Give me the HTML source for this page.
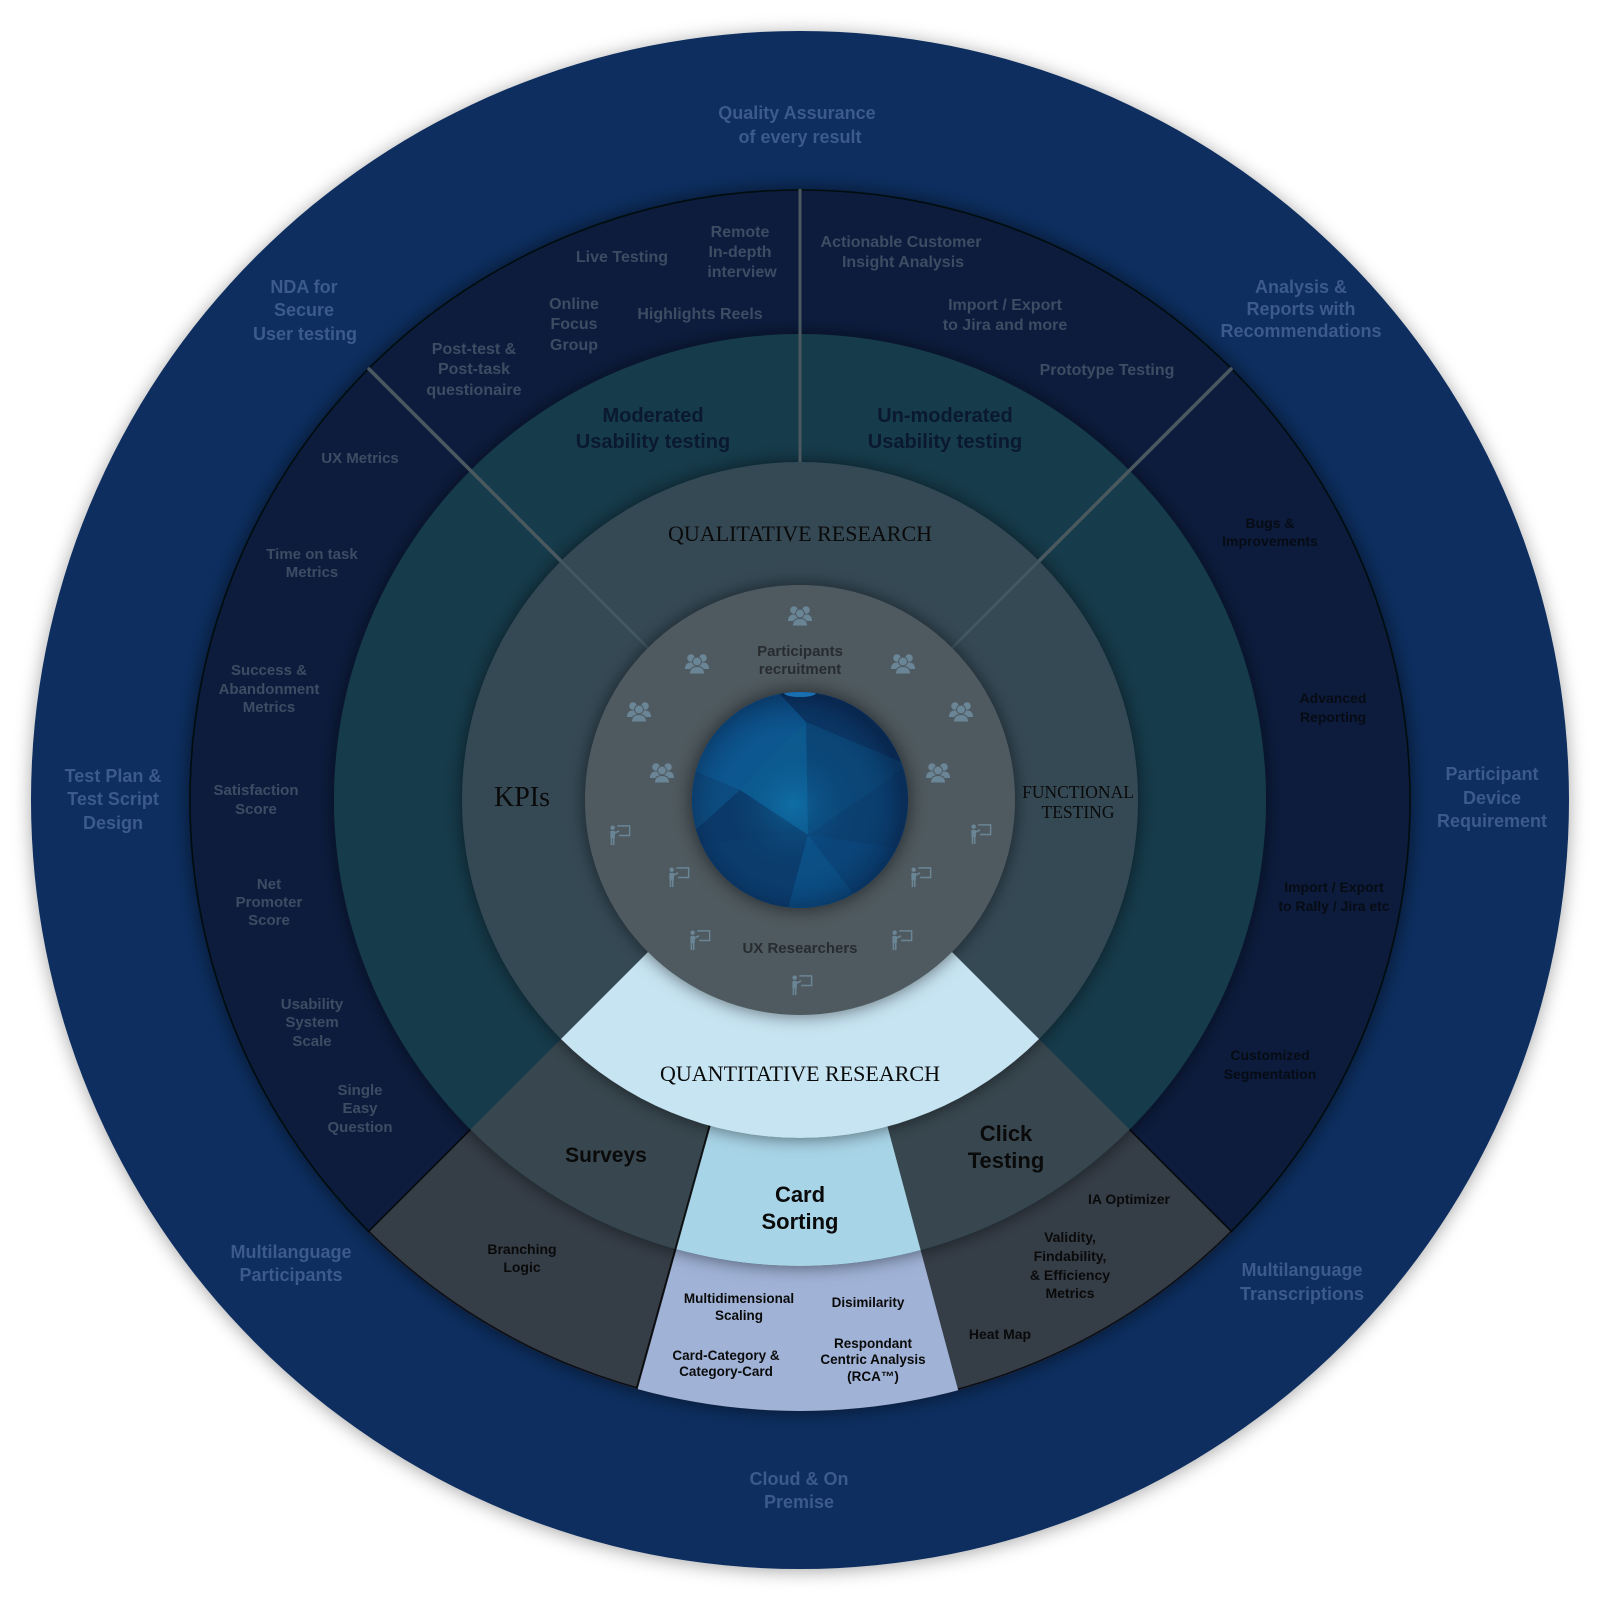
<!DOCTYPE html>
<html>
<head>
<meta charset="utf-8">
<style>
  html,body{margin:0;padding:0;background:#ffffff;}
  svg{display:block;}
  .s{font-family:"Liberation Sans",Arial,sans-serif;font-weight:bold;text-anchor:middle;}
  .f{font-family:"Liberation Serif","Times New Roman",serif;text-anchor:middle;fill:#0a0a0a;}
  .o{font-size:18px;fill:#3c5a8c;}
  .t{font-size:16px;fill:#3d4c62;}
  .l{font-size:15px;fill:#3d4c62;}
  .r{font-size:14px;fill:#060b14;}
  .m{font-size:20px;fill:#0b1930;}
  .p{font-size:15px;fill:#272c30;}
  .b{font-size:22px;fill:#0a0a0a;}
  .c{font-size:14px;fill:#0a0a0a;}
  .d{font-size:13.5px;fill:#0a0a0a;}
</style>
</head>
<body>
<svg width="1600" height="1600" viewBox="0 0 1600 1600" xmlns="http://www.w3.org/2000/svg">
<defs>
  <filter id="sh0" x="-10%" y="-10%" width="120%" height="120%">
    <feDropShadow dx="0" dy="2" stdDeviation="9" flood-color="#000" flood-opacity="0.35"/>
  </filter>
  <filter id="sh" x="-20%" y="-20%" width="140%" height="140%">
    <feDropShadow dx="0" dy="0" stdDeviation="9" flood-color="#000" flood-opacity="0.55"/>
  </filter>
  <filter id="shg" x="-40%" y="-40%" width="180%" height="180%">
    <feDropShadow dx="0" dy="0" stdDeviation="10" flood-color="#000" flood-opacity="0.6"/>
  </filter>
  <clipPath id="bot"><polygon points="800,800 -200,1800 1800,1800"/></clipPath>
  <clipPath id="card"><polygon points="800,800 523,1800 1068,1800"/></clipPath>
  <clipPath id="globe"><circle cx="800" cy="800" r="108"/></clipPath>
  <radialGradient id="gglow" cx="793" cy="805" r="110" gradientUnits="userSpaceOnUse">
    <stop offset="0" stop-color="#1386bf" stop-opacity="0.45"/>
    <stop offset="0.6" stop-color="#0a4a80" stop-opacity="0"/>
    <stop offset="1" stop-color="#06183a" stop-opacity="0.45"/>
  </radialGradient>
  <symbol id="ppl" viewBox="0 0 26 22">
    <circle cx="7" cy="6" r="3.8" fill="#6a8596"/>
    <path d="M1,17 q0,-6.5 6,-6.5 q6,0 6,6.5 z" fill="#6a8596"/>
    <circle cx="19" cy="6" r="3.8" fill="#6a8596"/>
    <path d="M13,17 q0,-6.5 6,-6.5 q6,0 6,6.5 z" fill="#6a8596"/>
    <circle cx="13" cy="9.5" r="4.4" fill="#6a8596" stroke="#4f5a61" stroke-width="1"/>
    <path d="M5.5,22 q0,-7.5 7.5,-7.5 q7.5,0 7.5,7.5 z" fill="#6a8596" stroke="#4f5a61" stroke-width="1"/>
  </symbol>
  <symbol id="pre" viewBox="0 0 24 24">
    <circle cx="4" cy="4" r="2.4" fill="#6a8596"/>
    <rect x="1.5" y="7.5" width="5" height="8" rx="1" fill="#6a8596"/>
    <rect x="1.8" y="14.5" width="1.7" height="8.5" fill="#6a8596"/>
    <rect x="4.3" y="14.5" width="1.7" height="8.5" fill="#6a8596"/>
    <path d="M6,10 L11,7.5" stroke="#6a8596" stroke-width="1.8" fill="none"/>
    <path d="M9,2 H22.5 V12.5 H11" stroke="#6a8596" stroke-width="1.6" fill="none"/>
  </symbol>
</defs>

<rect width="1600" height="1600" fill="#ffffff"/>

<!-- outer ring -->
<g filter="url(#sh0)">
  <circle cx="800" cy="800" r="769" fill="#0f2d5e"/>
</g>

<!-- R4 dark band -->
<g filter="url(#sh)">
  <circle cx="800" cy="800" r="611" fill="#0e1f3d"/>
  <circle cx="800" cy="800" r="611" fill="#353c47" clip-path="url(#bot)"/>
  <circle cx="800" cy="800" r="610" fill="none" stroke="#000" stroke-opacity="0.75" stroke-width="1.6"/>
  <circle cx="800" cy="800" r="611" fill="#a0b3d7" clip-path="url(#card)"/>
</g>

<!-- R3 teal -->
<g filter="url(#sh)">
  <circle cx="800" cy="800" r="466" fill="#163a4c"/>
  <circle cx="800" cy="800" r="466" fill="#37474f" clip-path="url(#bot)"/>
  <circle cx="800" cy="800" r="466" fill="#a8d4e7" clip-path="url(#card)"/>
</g>

<!-- lower boundary lines in R4 -->
<line x1="470.5" y1="1129.5" x2="368" y2="1232" stroke="#000" stroke-opacity="0.8" stroke-width="1.6"/>
<line x1="1129.5" y1="1129.5" x2="1232" y2="1232" stroke="#000" stroke-opacity="0.8" stroke-width="1.6"/>

<!-- R2 -->
<g filter="url(#sh)">
  <circle cx="800" cy="800" r="338" fill="#344a55"/>
  <circle cx="800" cy="800" r="338" fill="#c7e4f2" clip-path="url(#bot)"/>
</g>

<!-- card sorting left edge -->
<line x1="709.7" y1="1125.7" x2="636.7" y2="1388.8" stroke="#000" stroke-opacity="0.85" stroke-width="2"/>

<!-- divider lines upper half -->
<line x1="800" y1="189" x2="800" y2="462" stroke="#4a5960" stroke-width="3"/>
<line x1="368" y1="368" x2="561" y2="561" stroke="#4a5960" stroke-width="3.5"/>
<line x1="1232" y1="368" x2="1039" y2="561" stroke="#4a5960" stroke-width="3.5"/>
<line x1="561" y1="561" x2="650" y2="650" stroke="#435a64" stroke-width="2.5"/>
<line x1="1039" y1="561" x2="950" y2="650" stroke="#435a64" stroke-width="2.5"/>

<!-- R1 participants ring -->
<g filter="url(#sh)">
  <circle cx="800" cy="800" r="215" fill="#4f5a61"/>
</g>

<!-- globe -->
<g filter="url(#shg)">
  <circle cx="800" cy="800" r="108" fill="#0b4a80"/>
</g>
<g clip-path="url(#globe)">
  <polygon points="692,770 740,790 784,743 806,722 776,690 690,690" fill="#0d5590"/>
  <polygon points="692,770 740,790 784,743 806,722 776,690 720,690 700,730" fill="#0e5893" opacity="0.6"/>
  <polygon points="776,690 806,722 908,765 908,690" fill="#0b3563"/>
  <polygon points="806,722 808,835 862,798 908,765" fill="#0b4677"/>
  <polygon points="740,790 784,743 806,722 808,835" fill="#0c5a8f"/>
  <polygon points="690,770 740,790 690,835" fill="#0d4c80"/>
  <polygon points="690,835 740,790 808,835 690,845" fill="#0b3a69"/>
  <polygon points="690,845 808,835 787,912 690,912" fill="#0b3c6c"/>
  <polygon points="808,835 787,912 855,912 853,893" fill="#0b4f85"/>
  <polygon points="808,835 853,893 910,870 910,850" fill="#0a4478"/>
  <polygon points="808,835 910,850 908,765 862,798" fill="#0b3f70"/>
  <circle cx="800" cy="800" r="108" fill="url(#gglow)"/>
  <ellipse cx="800" cy="693" rx="16" ry="4" fill="#1a6fb0"/>
</g>

<!-- icons -->
<use href="#ppl" x="787" y="604" width="26" height="22"/>
<use href="#ppl" x="684" y="652" width="26" height="22"/>
<use href="#ppl" x="890" y="652" width="26" height="22"/>
<use href="#ppl" x="626" y="700" width="26" height="22"/>
<use href="#ppl" x="948" y="700" width="26" height="22"/>
<use href="#ppl" x="649" y="761" width="26" height="22"/>
<use href="#ppl" x="925" y="761" width="26" height="22"/>
<use href="#pre" x="609" y="824" width="22" height="22"/>
<use href="#pre" x="970" y="823" width="22" height="22"/>
<use href="#pre" x="668" y="866" width="22" height="22"/>
<use href="#pre" x="910" y="866" width="22" height="22"/>
<use href="#pre" x="689" y="929" width="22" height="22"/>
<use href="#pre" x="891" y="929" width="22" height="22"/>
<use href="#pre" x="791" y="974" width="22" height="22"/>

<!-- outer ring text -->
<g class="s o">
  <text x="797" y="119">Quality Assurance</text>
  <text x="800" y="143">of every result</text>
  <text x="304" y="293">NDA for</text>
  <text x="304" y="316">Secure</text>
  <text x="305" y="340">User testing</text>
  <text x="1301" y="293">Analysis &amp;</text>
  <text x="1301" y="315">Reports with</text>
  <text x="1301" y="337">Recommendations</text>
  <text x="113" y="782">Test Plan &amp;</text>
  <text x="113" y="805">Test Script</text>
  <text x="113" y="829">Design</text>
  <text x="1492" y="780">Participant</text>
  <text x="1492" y="804">Device</text>
  <text x="1492" y="827">Requirement</text>
  <text x="291" y="1258">Multilanguage</text>
  <text x="291" y="1281">Participants</text>
  <text x="1302" y="1276">Multilanguage</text>
  <text x="1302" y="1300">Transcriptions</text>
  <text x="799" y="1485">Cloud &amp; On</text>
  <text x="799" y="1508">Premise</text>
</g>

<!-- top band text -->
<g class="s t">
  <text x="622" y="262">Live Testing</text>
  <text x="740" y="237">Remote</text>
  <text x="740" y="257">In-depth</text>
  <text x="742" y="277">interview</text>
  <text x="574" y="309">Online</text>
  <text x="574" y="329">Focus</text>
  <text x="574" y="350">Group</text>
  <text x="700" y="319">Highlights Reels</text>
  <text x="474" y="354">Post-test &amp;</text>
  <text x="474" y="374">Post-task</text>
  <text x="474" y="395">questionaire</text>
  <text x="901" y="247">Actionable Customer</text>
  <text x="903" y="267">Insight Analysis</text>
  <text x="1005" y="310">Import / Export</text>
  <text x="1005" y="330">to Jira and more</text>
  <text x="1107" y="375">Prototype Testing</text>
</g>

<!-- left band text -->
<g class="s l">
  <text x="360" y="463">UX Metrics</text>
  <text x="312" y="559">Time on task</text>
  <text x="312" y="577">Metrics</text>
  <text x="269" y="675">Success &amp;</text>
  <text x="269" y="694">Abandonment</text>
  <text x="269" y="712">Metrics</text>
  <text x="256" y="795">Satisfaction</text>
  <text x="256" y="814">Score</text>
  <text x="269" y="889">Net</text>
  <text x="269" y="907">Promoter</text>
  <text x="269" y="925">Score</text>
  <text x="312" y="1009">Usability</text>
  <text x="312" y="1027">System</text>
  <text x="312" y="1046">Scale</text>
  <text x="360" y="1095">Single</text>
  <text x="360" y="1113">Easy</text>
  <text x="360" y="1132">Question</text>
</g>

<!-- right band text -->
<g class="s r">
  <text x="1270" y="528">Bugs &amp;</text>
  <text x="1270" y="546">Improvements</text>
  <text x="1333" y="703">Advanced</text>
  <text x="1333" y="722">Reporting</text>
  <text x="1334" y="892">Import / Export</text>
  <text x="1334" y="911">to Rally / Jira etc</text>
  <text x="1270" y="1060">Customized</text>
  <text x="1270" y="1079">Segmentation</text>
</g>

<!-- teal labels -->
<g class="s m">
  <text x="653" y="422">Moderated</text>
  <text x="653" y="448">Usability testing</text>
  <text x="945" y="422">Un-moderated</text>
  <text x="945" y="448">Usability testing</text>
</g>

<!-- serif labels -->
<text class="f" x="800" y="541" font-size="22">QUALITATIVE RESEARCH</text>
<text class="f" x="522" y="806" font-size="28">KPIs</text>
<text class="f" x="1078" y="798" font-size="17.5">FUNCTIONAL</text>
<text class="f" x="1078" y="818" font-size="17.5">TESTING</text>
<text class="f" x="800" y="1081" font-size="22">QUANTITATIVE RESEARCH</text>

<!-- participants ring labels -->
<g class="s p">
  <text x="800" y="656">Participants</text>
  <text x="800" y="674">recruitment</text>
  <text x="800" y="953">UX Researchers</text>
</g>

<!-- bottom labels -->
<g class="s b">
  <text x="606" y="1162" font-size="21">Surveys</text>
  <text x="800" y="1202">Card</text>
  <text x="800" y="1229">Sorting</text>
  <text x="1006" y="1141">Click</text>
  <text x="1006" y="1168">Testing</text>
</g>
<g class="s c">
  <text x="522" y="1254">Branching</text>
  <text x="522" y="1272">Logic</text>
  <text x="1129" y="1204">IA Optimizer</text>
  <text x="1070" y="1242">Validity,</text>
  <text x="1070" y="1261">Findability,</text>
  <text x="1070" y="1280">&amp; Efficiency</text>
  <text x="1070" y="1298">Metrics</text>
  <text x="1000" y="1339">Heat Map</text>
</g>
<g class="s d">
  <text x="739" y="1303">Multidimensional</text>
  <text x="739" y="1320">Scaling</text>
  <text x="868" y="1307">Disimilarity</text>
  <text x="726" y="1360">Card-Category &amp;</text>
  <text x="726" y="1376">Category-Card</text>
  <text x="873" y="1348">Respondant</text>
  <text x="873" y="1364">Centric Analysis</text>
  <text x="873" y="1381">(RCA™)</text>
</g>
</svg>
</body>
</html>
